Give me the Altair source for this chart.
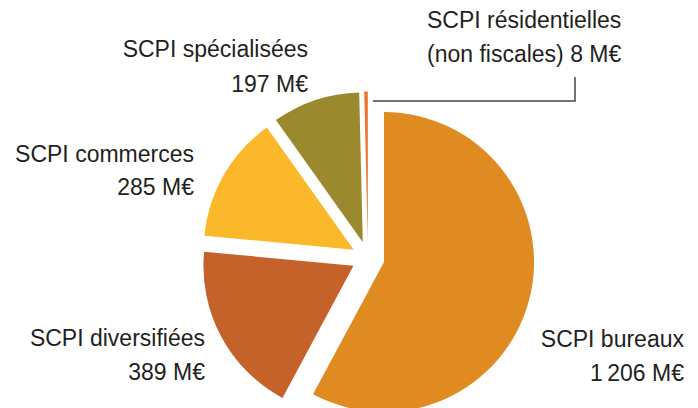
import altair as alt
import pandas as pd

# ---- data ----
categories = ["SCPI bureaux", "SCPI diversifiées", "SCPI commerces",
              "SCPI spécialisées", "SCPI résidentielles (non fiscales)"]
values = [1206, 389, 285, 197, 8]
colors = ["#E08B22", "#C4622A", "#FBB82A", "#9A8A2D", "#E8762E"]

label_line1 = ["SCPI bureaux", "SCPI diversifiées", "SCPI commerces",
               "SCPI spécialisées", "SCPI résidentielles"]
label_line2 = ["1\u2009206 M€", "389 M€", "285 M€", "197 M€", "(non fiscales) 8 M€"]

# ---- layout (pixels in chart coordinates) ----
W, H = 682, 400
CX, CY = 360, 250
RADIUS = 150
EXPLODE = 16.5
label_x = [676, 197, 186, 300, 419]
label_y1 = [339, 338, 154, 49, 20]
label_y2 = [373, 372, 187, 84, 54]
label_align = ["right", "right", "right", "right", "left"]
leader_x = [365, 567, 567]
leader_y = [93, 93, 69]

FONT = "Liberation Sans"
FONT_SIZE = 23
TEXT_COLOR = "#231F20"

df = pd.DataFrame({"category": categories, "value": values, "order": list(range(len(values)))})

arcs = (
    alt.Chart(df)
    .transform_joinaggregate(total="sum(value)")
    .transform_window(cum="sum(value)", sort=[alt.SortField("order")], frame=[None, 0])
    .transform_calculate(
        a0="2*PI*(datum.cum - datum.value)/datum.total",
        a1="2*PI*datum.cum/datum.total",
    )
    .transform_calculate(mid="(datum.a0 + datum.a1)/2")
    .transform_calculate(
        cx=f"{CX} + {EXPLODE}*sin(datum.mid)",
        cy=f"{CY} - {EXPLODE}*cos(datum.mid)",
    )
    .mark_arc(radius=RADIUS)
    .encode(
        x=alt.X("cx:Q", scale=None, axis=None),
        y=alt.Y("cy:Q", scale=None, axis=None),
        theta=alt.Theta("a0:Q", scale=None),
        theta2="a1:Q",
        color=alt.Color("category:N", scale=alt.Scale(domain=categories, range=colors), legend=None),
    )
)

labels = pd.DataFrame({
    "l1": label_line1, "l2": label_line2,
    "x": label_x, "y1": label_y1, "y2": label_y2, "align": label_align,
})

text_layers = []
for al in ["right", "left"]:
    sub = labels[labels["align"] == al]
    for fld, yf in [("l1", "y1"), ("l2", "y2")]:
        text_layers.append(
            alt.Chart(sub)
            .mark_text(align=al, baseline="alphabetic", font=FONT, fontSize=FONT_SIZE, color=TEXT_COLOR)
            .encode(
                x=alt.X("x:Q", scale=None, axis=None),
                y=alt.Y(f"{yf}:Q", scale=None, axis=None),
                text=f"{fld}:N",
            )
        )

leader_df = pd.DataFrame({"x": leader_x, "y": leader_y, "o": [0, 1, 2]})
leader = (
    alt.Chart(leader_df)
    .mark_line(color="#444444", strokeWidth=1.5)
    .encode(
        x=alt.X("x:Q", scale=None, axis=None),
        y=alt.Y("y:Q", scale=None, axis=None),
        order="o:Q",
    )
)

chart = (
    alt.layer(arcs, leader, *text_layers)
    .properties(width=W, height=H, padding=0, autosize=alt.AutoSizeParams(type="none"))
    .configure_view(stroke=None)
)

chart.save("out.html", embed_options={"renderer": "svg", "actions": False})
